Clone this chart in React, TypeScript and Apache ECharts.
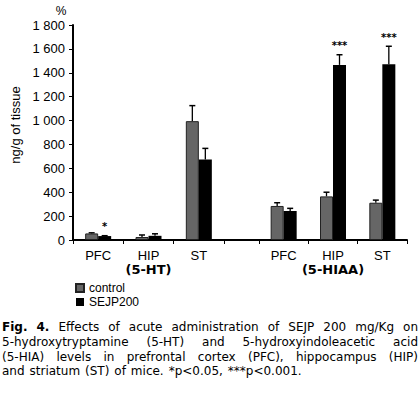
import React, { useEffect, useRef } from "react";
import * as echarts from "echarts";

const categories = ["PFC", "HIP", "ST"];
const htControl = [55, 25, 995];
const htControlErr = [5, 17, 130];
const htSejp = [33, 35, 675];
const htSejpErr = [3, 17, 92];
const htSejpStars = ["*", "", ""];
const hiaaControl = [285, 365, 312];
const hiaaControlErr = [27, 35, 22];
const hiaaSejp = [243, 1466, 1472];
const hiaaSejpErr = [22, 85, 150];
const hiaaSejpStars = ["", "***", "***"];
const seriesNames = ["control", "SEJP200"];
const groupNames = ["(5-HT)", "(5-HIAA)"];
const yTicks = { min: 0, max: 1800, interval: 200 };
const captionLines = [
  "Fig. 4. Effects of acute administration of SEJP 200 mg/Kg on",
  "5-hydroxytryptamine (5-HT) and 5-hydroxyindoleacetic acid",
  "(5-HIA) levels in prefrontal cortex (PFC), hippocampus (HIP)",
  "and striatum (ST) of mice. *p<0.05, ***p<0.001.",
];

const SANS = "Liberation Sans, Arial, sans-serif";
const VERD = "DejaVu Sans, Verdana, sans-serif";

function fmtY(v: number) {
  if (v >= 1000) return Math.floor(v / 1000) + " " + String(v % 1000).padStart(3, "0");
  return String(v);
}

function buildCaption(): any[] {
  const canvas = document.createElement("canvas");
  const ctx = canvas.getContext("2d")!;
  const out: any[] = [];
  const x0 = 2, x1 = 418;
  const ys = [327, 342, 357, 371];
  captionLines.forEach((line, li) => {
    const words = line.split(" ");
    const items = words.map((w, wi) => {
      const bold = li === 0 && wi < 2;
      ctx.font = (bold ? "bold " : "") + "12px " + VERD;
      return { w, bold, width: ctx.measureText(w).width };
    });
    ctx.font = "12px " + VERD;
    const spaceW = ctx.measureText(" ").width;
    const total = items.reduce((s, it) => s + it.width, 0);
    const justify = li < captionLines.length - 1;
    const gap = justify ? (x1 - x0 - total) / (items.length - 1) : spaceW * 1.3;
    let x = x0;
    items.forEach((it) => {
      out.push({
        type: "text",
        x,
        y: ys[li],
        style: {
          text: it.w,
          font: (it.bold ? "bold " : "") + "12px " + VERD,
          fill: "#000",
          textAlign: "left",
          textVerticalAlign: "middle",
        },
      });
      x += it.width + gap;
    });
  });
  return out;
}

function errSeries(gridIdx: number, ctrl: number[], ctrlErr: number[], sejp: number[], sejpErr: number[], stars: string[]) {
  const data: number[][] = [];
  const starList: string[] = [];
  ctrl.forEach((v, i) => { data.push([i, v, ctrlErr[i], 0]); starList.push(""); });
  sejp.forEach((v, i) => { data.push([i, v, sejpErr[i], 1]); starList.push(stars[i]); });
  return {
    type: "custom",
    xAxisIndex: gridIdx,
    yAxisIndex: gridIdx,
    clip: false,
    silent: true,
    data,
    renderItem: (params: any, api: any) => {
      const ci = api.value(0), v = api.value(1), e = api.value(2), side = api.value(3);
      const base = api.coord([ci, v]);
      const top = api.coord([ci, v + e]);
      const cx = base[0] + (side === 0 ? -6.5 : 6.5);
      const children: any[] = [
        { type: "line", shape: { x1: cx, y1: base[1], x2: cx, y2: top[1] }, style: { stroke: "#000", lineWidth: 1.3 } },
        { type: "line", shape: { x1: cx - 3, y1: top[1], x2: cx + 3, y2: top[1] }, style: { stroke: "#000", lineWidth: 1.5 } },
      ];
      const s = starList[params.dataIndex];
      if (s) {
        children.push({
          type: "text",
          x: cx,
          y: top[1] - 9,
          style: { text: s, font: "bold 10px " + VERD, fill: "#000", textAlign: "center", textVerticalAlign: "middle" },
        });
      }
      return { type: "group", children };
    },
  };
}

export default function App() {
  const ref = useRef<HTMLDivElement>(null);
  useEffect(() => {
    const chart = echarts.init(ref.current!, null, { renderer: "svg" });
    const xAxisBase = (gridIndex: number, group: string) => ({
      type: "category",
      gridIndex,
      data: categories,
      boundaryGap: true,
      axisLine: { lineStyle: { color: "#000", width: 2 } },
      axisTick: { show: true, length: 4, lineStyle: { color: "#000", width: 1 } },
      axisLabel: {
        margin: 8,
        interval: 0,
        formatter: (v: string) => (v === "HIP" ? "{a|HIP}\n{b|" + group + "}" : "{a|" + v + "}"),
        rich: {
          a: { fontSize: 13, fontFamily: SANS, color: "#000", lineHeight: 14 },
          b: { fontSize: 13, fontFamily: VERD, fontWeight: "bold", color: "#000", lineHeight: 15 },
        },
      },
    });
    const yAxisBase = (gridIndex: number, show: boolean) => ({
      type: "value",
      gridIndex,
      min: yTicks.min,
      max: yTicks.max,
      interval: yTicks.interval,
      show,
      splitLine: { show: false },
      axisLine: { show: true, lineStyle: { color: "#000", width: 2 } },
      axisTick: { show: true, length: 4, lineStyle: { color: "#000", width: 1 } },
      axisLabel: { formatter: fmtY, fontSize: 13, fontFamily: SANS, color: "#000", margin: 8 },
    });
    const ctrlStyle = { color: "#666666", borderColor: "#222", borderWidth: 1 };
    const sejpStyle = { color: "#000000" };
    chart.setOption({
      animation: false,
      backgroundColor: "#fff",
      grid: [
        { left: 73, top: 25, width: 151, height: 215 },
        { left: 259, top: 25, width: 148, height: 215 },
      ],
      xAxis: [xAxisBase(0, groupNames[0]), xAxisBase(1, groupNames[1])],
      yAxis: [yAxisBase(0, true), yAxisBase(1, false)],
      legend: {
        data: seriesNames,
        orient: "vertical",
        left: 75,
        top: 282,
        padding: 0,
        itemWidth: 8,
        itemHeight: 8,
        itemGap: 2,
        icon: "rect",
        textStyle: { fontSize: 12, fontFamily: SANS, color: "#000", lineHeight: 12 },
      },
      series: [
        { type: "bar", name: seriesNames[0], xAxisIndex: 0, yAxisIndex: 0, data: htControl, barWidth: 13, barGap: "0%", itemStyle: ctrlStyle },
        { type: "bar", name: seriesNames[1], xAxisIndex: 0, yAxisIndex: 0, data: htSejp, barWidth: 13, barGap: "0%", itemStyle: sejpStyle },
        { type: "bar", name: seriesNames[0], xAxisIndex: 1, yAxisIndex: 1, data: hiaaControl, barWidth: 13, barGap: "0%", itemStyle: ctrlStyle },
        { type: "bar", name: seriesNames[1], xAxisIndex: 1, yAxisIndex: 1, data: hiaaSejp, barWidth: 13, barGap: "0%", itemStyle: sejpStyle },
        errSeries(0, htControl, htControlErr, htSejp, htSejpErr, htSejpStars),
        errSeries(1, hiaaControl, hiaaControlErr, hiaaSejp, hiaaSejpErr, hiaaSejpStars),
      ],
      graphic: [
        { type: "line", shape: { x1: 223, y1: 240, x2: 260, y2: 240 }, style: { stroke: "#000", lineWidth: 2 } },
        { type: "text", x: 61, y: 11, style: { text: "%", font: "12px " + SANS, fill: "#000", textAlign: "center", textVerticalAlign: "middle" } },
        { type: "text", x: 15, y: 125, rotation: Math.PI / 2, style: { text: "ng/g of tissue", font: "13px " + SANS, fill: "#000", textAlign: "center", textVerticalAlign: "middle" } },
        ...buildCaption(),
      ],
    });
    return () => chart.dispose();
  }, []);
  return <div ref={ref} style={{ position: "absolute", left: 0, top: 0, width: 420, height: 393 }} />;
}
